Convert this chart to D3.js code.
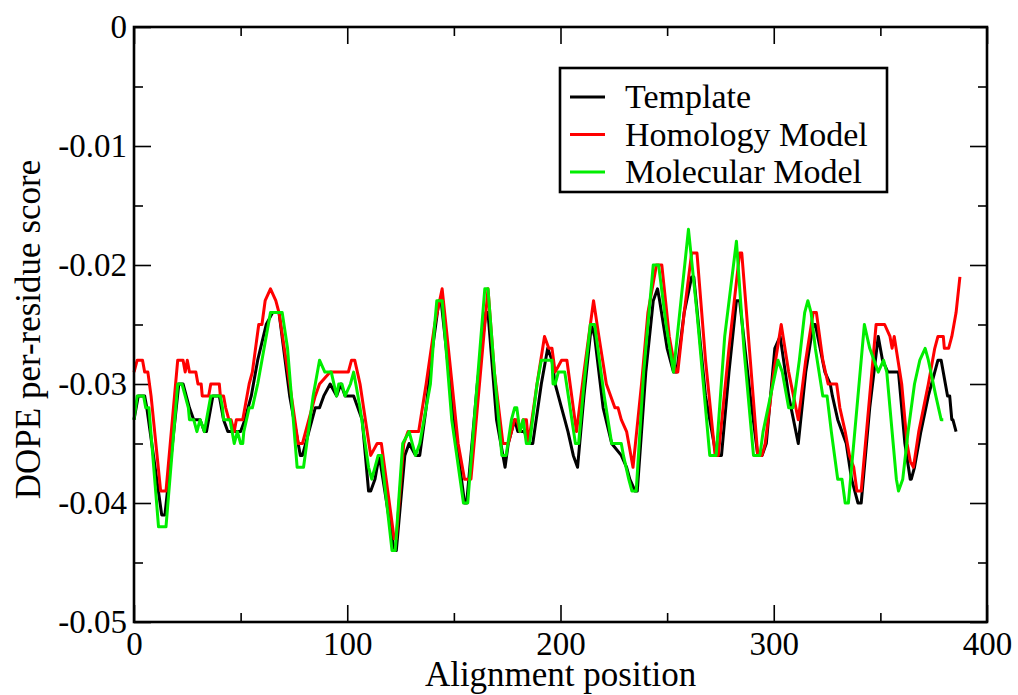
<!DOCTYPE html>
<html lang="en">
<head>
  <meta charset="utf-8">
  <title>DOPE per-residue profile</title>
  <script src="https://d3js.org/d3.v7.min.js"></script>
  <style>
    body { margin: 0; background: #fff; }
    svg text { font-family: "Liberation Serif", "DejaVu Serif", serif; fill: #000; }
  </style>
</head>
<body>
  <script>
    // [alignment position, DOPE score]
    var template = [[0,-0.033],[2,-0.031],[5,-0.031],[6,-0.032],[13,-0.041],[14.5,-0.041],[21,-0.030],[23,-0.030],[26,-0.032],[28,-0.033],[31,-0.033],[33,-0.034],[34,-0.034],[37,-0.031],[40,-0.031],[42,-0.033],[44,-0.034],[50,-0.034],[52,-0.033],[55,-0.031],[58,-0.028],[62,-0.025],[65,-0.024],[68,-0.024],[73,-0.031],[78,-0.036],[79,-0.036],[82,-0.034],[85,-0.032],[87,-0.032],[89,-0.031],[92,-0.030],[95,-0.031],[97,-0.030],[99,-0.031],[103,-0.031],[107,-0.033],[110,-0.039],[111,-0.039],[113,-0.038],[115,-0.036],[122,-0.044],[123,-0.044],[127,-0.036],[129,-0.035],[132,-0.036],[134,-0.036],[137,-0.032],[140,-0.027],[143,-0.023],[144,-0.023],[150,-0.033],[155,-0.040],[156,-0.040],[161,-0.030],[165,-0.024],[166,-0.024],[170,-0.033],[174,-0.037],[175.5,-0.035],[178.5,-0.033],[180,-0.034],[183,-0.034],[185.5,-0.035],[187,-0.035],[191,-0.030],[194,-0.027],[196,-0.028],[197.5,-0.030],[199,-0.031],[200.5,-0.032],[202,-0.033],[203.5,-0.034],[206,-0.036],[208,-0.037],[211,-0.031],[214.5,-0.025],[216,-0.026],[220,-0.032],[224,-0.035],[228.5,-0.036],[231,-0.037],[232.5,-0.038],[235,-0.039],[236,-0.039],[240,-0.029],[243.5,-0.023],[245.5,-0.022],[246.5,-0.023],[250,-0.027],[253,-0.029],[254.5,-0.029],[258,-0.024],[261.5,-0.021],[262.5,-0.021],[268,-0.031],[273,-0.036],[275.5,-0.036],[279,-0.029],[282.5,-0.023],[284,-0.023],[289,-0.031],[292.5,-0.036],[294.5,-0.036],[296.5,-0.035],[300.5,-0.027],[303,-0.026],[307,-0.031],[311.5,-0.035],[315,-0.029],[318.5,-0.025],[319.5,-0.025],[324,-0.029],[326.5,-0.030],[327.5,-0.031],[330,-0.033],[334,-0.035],[336.5,-0.038],[338,-0.039],[339.5,-0.040],[341,-0.040],[345,-0.032],[349,-0.026],[351,-0.028],[353.5,-0.029],[358.5,-0.029],[361.5,-0.035],[364,-0.038],[364.5,-0.038],[366,-0.037],[369,-0.034],[372.5,-0.031],[377,-0.028],[378.5,-0.028],[381.5,-0.031],[382.5,-0.031],[383.5,-0.033],[384,-0.033],[385.5,-0.034]];

    var homology = [[0,-0.029],[1.5,-0.028],[4,-0.028],[5,-0.029],[6.5,-0.029],[8,-0.031],[12.5,-0.039],[15,-0.039],[20.5,-0.028],[22,-0.028],[23,-0.028],[24,-0.029],[25,-0.028],[26,-0.029],[29,-0.029],[30,-0.030],[31.5,-0.030],[32,-0.031],[35,-0.031],[36,-0.030],[40,-0.030],[40.5,-0.031],[42,-0.031],[43,-0.032],[44.5,-0.033],[45.5,-0.033],[47,-0.034],[48,-0.033],[51,-0.033],[54,-0.030],[55.5,-0.029],[58.5,-0.025],[60,-0.025],[61.5,-0.023],[64,-0.022],[66.5,-0.023],[68,-0.024],[73,-0.030],[77,-0.035],[79,-0.035],[82,-0.033],[85,-0.031],[87,-0.030],[92,-0.029],[100.5,-0.029],[102,-0.028],[103.5,-0.028],[106,-0.030],[108.5,-0.033],[111,-0.036],[114,-0.035],[116,-0.035],[122,-0.043],[123,-0.043],[126.5,-0.035],[128.5,-0.034],[133.5,-0.034],[137,-0.030],[141,-0.025],[144.5,-0.022],[148,-0.028],[152,-0.035],[155,-0.038],[158,-0.038],[162,-0.030],[166,-0.022],[169,-0.029],[173,-0.035],[175.5,-0.035],[178.5,-0.033],[179.5,-0.033],[181,-0.034],[182.5,-0.033],[184,-0.033],[185,-0.035],[189,-0.030],[192.5,-0.026],[194.5,-0.027],[196,-0.027],[197.5,-0.029],[200.5,-0.028],[203,-0.028],[207.5,-0.034],[211,-0.029],[215.5,-0.023],[218,-0.026],[221.5,-0.030],[225.5,-0.032],[227,-0.032],[228.5,-0.033],[231,-0.034],[234,-0.037],[238,-0.030],[241,-0.024],[245,-0.020],[247.5,-0.020],[251,-0.026],[254,-0.029],[255,-0.029],[258,-0.024],[261.5,-0.019],[264,-0.019],[268,-0.028],[272.5,-0.036],[274,-0.036],[279,-0.027],[284,-0.019],[285,-0.019],[289,-0.028],[292.5,-0.036],[294.5,-0.036],[296,-0.035],[300,-0.029],[303.5,-0.025],[307,-0.029],[311.5,-0.033],[315,-0.028],[318.5,-0.024],[320,-0.024],[323,-0.028],[325.5,-0.030],[329.5,-0.030],[331,-0.032],[333.5,-0.034],[335.5,-0.036],[337.5,-0.037],[339,-0.039],[341,-0.039],[345,-0.031],[348,-0.025],[352,-0.025],[354.5,-0.026],[355.5,-0.027],[356.5,-0.026],[360,-0.030],[362.5,-0.035],[364,-0.0365],[365.5,-0.037],[368,-0.034],[372.5,-0.030],[375.5,-0.027],[377,-0.026],[379.5,-0.026],[380,-0.027],[382,-0.027],[383.5,-0.026],[385.5,-0.024],[387.3,-0.021]];

    var molecular = [[0,-0.033],[1.5,-0.031],[4.5,-0.031],[5.5,-0.032],[7,-0.032],[11.5,-0.042],[15,-0.042],[20.5,-0.030],[22.5,-0.030],[24,-0.031],[25.5,-0.032],[26,-0.033],[28,-0.033],[29.5,-0.034],[31,-0.033],[33,-0.034],[36,-0.031],[40.5,-0.031],[41.5,-0.032],[42,-0.033],[45,-0.033],[46,-0.034],[47,-0.035],[48.5,-0.034],[50,-0.035],[51,-0.035],[51.5,-0.034],[54,-0.032],[55.5,-0.032],[58,-0.030],[60,-0.028],[61,-0.027],[63,-0.025],[64,-0.024],[69.5,-0.024],[72,-0.027],[76.5,-0.037],[79.5,-0.037],[81,-0.035],[84,-0.031],[87,-0.028],[89.5,-0.029],[92.5,-0.029],[95,-0.031],[96,-0.030],[97.5,-0.030],[99,-0.031],[101.5,-0.030],[103,-0.029],[106,-0.032],[110,-0.037],[111.5,-0.038],[114.5,-0.036],[116,-0.036],[121,-0.044],[122.5,-0.044],[126,-0.035],[129,-0.034],[132,-0.036],[134,-0.035],[139,-0.030],[141,-0.025],[142,-0.023],[144.5,-0.023],[149,-0.033],[154.5,-0.040],[156.5,-0.040],[160,-0.032],[164.5,-0.022],[166,-0.022],[169,-0.029],[172.5,-0.036],[174.5,-0.036],[177,-0.033],[178.5,-0.032],[179.5,-0.032],[181,-0.034],[182.5,-0.033],[184,-0.035],[185.5,-0.035],[189,-0.030],[191,-0.028],[196,-0.028],[196.5,-0.030],[197.5,-0.030],[199,-0.029],[202,-0.029],[207,-0.035],[208.5,-0.035],[211,-0.030],[214,-0.025],[216,-0.025],[220.5,-0.031],[224,-0.035],[228.5,-0.035],[229.5,-0.036],[232,-0.038],[233.5,-0.039],[235.5,-0.039],[239,-0.029],[243.5,-0.020],[246,-0.020],[249.5,-0.025],[253,-0.029],[256.5,-0.023],[260,-0.017],[264,-0.024],[270,-0.036],[273,-0.036],[277,-0.026],[282.5,-0.018],[286,-0.027],[290.5,-0.036],[293.5,-0.036],[295,-0.034],[298.5,-0.031],[302,-0.028],[304,-0.029],[307,-0.032],[309,-0.032],[312,-0.028],[314.5,-0.024],[316,-0.023],[317.5,-0.024],[319.5,-0.027],[323,-0.031],[325,-0.031],[327,-0.034],[330,-0.038],[332,-0.038],[333.5,-0.040],[335,-0.040],[339,-0.032],[342.5,-0.025],[345,-0.027],[349,-0.029],[351.5,-0.028],[353,-0.029],[356,-0.035],[357.5,-0.038],[358.5,-0.039],[360.5,-0.038],[363,-0.034],[366,-0.030],[368.5,-0.028],[371,-0.027],[372.5,-0.028],[376,-0.031],[378.5,-0.033],[379.5,-0.033]];

    var seriesNames = ['Template', 'Homology Model', 'Molecular Model'];
    var seriesColors = ['#000000', '#ff0000', '#00ee00'];
    var xTicks = [0, 100, 200, 300, 400];
    var xMinor = [50, 150, 250, 350];
    var yTicks = [0, -0.01, -0.02, -0.03, -0.04, -0.05];
    var yMinor = [-0.005, -0.015, -0.025, -0.035, -0.045];

    var W = 1018, H = 695;
    var margin = { top: 27, right: 31, bottom: 73, left: 134 };
    var innerW = W - margin.left - margin.right;
    var innerH = H - margin.top - margin.bottom;
    var serif = '"Liberation Serif", "DejaVu Serif", serif';

    var svg = d3.select('body').append('svg')
      .attr('width', W)
      .attr('height', H);
    var g = svg.append('g')
      .attr('transform', 'translate(' + [margin.left, margin.top] + ')');

    var x = d3.scaleLinear().domain([0, 400]).range([0, innerW]);
    var y = d3.scaleLinear().domain([-0.05, 0]).range([innerH, 0]);

    var fmt = function(d) { return d === 0 ? '0' : String(d); };

    function styleAxis(sel) {
      sel.attr('font-family', serif).attr('font-size', 33);
      sel.select('.domain').remove();
      sel.selectAll('.tick line').attr('stroke', '#000').attr('stroke-width', 1.6);
      sel.selectAll('.tick text')
        .style('font-family', serif)
        .style('font-size', '33px');
    }

    // inward ticks on all four sides
    g.append('g').attr('transform', 'translate(0,' + innerH + ')')
      .call(d3.axisBottom(x).tickValues(xTicks).tickSize(-17).tickPadding(10).tickFormat(fmt))
      .call(styleAxis);
    g.append('g').attr('transform', 'translate(0,' + innerH + ')')
      .call(d3.axisBottom(x).tickValues(xMinor).tickSize(-9).tickFormat(''))
      .call(styleAxis);
    g.append('g')
      .call(d3.axisTop(x).tickValues(xTicks).tickSize(-17).tickFormat(''))
      .call(styleAxis);
    g.append('g')
      .call(d3.axisTop(x).tickValues(xMinor).tickSize(-9).tickFormat(''))
      .call(styleAxis);
    g.append('g')
      .call(d3.axisLeft(y).tickValues(yTicks).tickSize(-17).tickPadding(7).tickFormat(fmt))
      .call(styleAxis);
    g.append('g')
      .call(d3.axisLeft(y).tickValues(yMinor).tickSize(-9).tickFormat(''))
      .call(styleAxis);
    g.append('g').attr('transform', 'translate(' + innerW + ',0)')
      .call(d3.axisRight(y).tickValues(yTicks).tickSize(-17).tickFormat(''))
      .call(styleAxis);
    g.append('g').attr('transform', 'translate(' + innerW + ',0)')
      .call(d3.axisRight(y).tickValues(yMinor).tickSize(-9).tickFormat(''))
      .call(styleAxis);

    var line = d3.line()
      .x(function(d) { return x(d[0]); })
      .y(function(d) { return y(d[1]); });

    [template, homology, molecular].forEach(function(s, i) {
      g.append('path')
        .datum(s)
        .attr('fill', 'none')
        .attr('stroke', seriesColors[i])
        .attr('stroke-width', 3)
        .attr('stroke-linejoin', 'round')
        .attr('d', line);
    });

    // frame
    g.append('rect')
      .attr('width', innerW)
      .attr('height', innerH)
      .attr('fill', 'none')
      .attr('stroke', '#000')
      .attr('stroke-width', 2.6);

    // axis titles
    svg.append('text')
      .attr('x', margin.left + innerW / 2)
      .attr('y', 686)
      .attr('text-anchor', 'middle')
      .attr('font-family', serif)
      .attr('font-size', 35)
      .text('Alignment position');
    svg.append('text')
      .attr('transform', 'translate(40,' + (margin.top + innerH / 2 + 5) + ') rotate(-90)')
      .attr('text-anchor', 'middle')
      .attr('font-family', serif)
      .attr('font-size', 35)
      .text('DOPE per-residue score');

    // legend
    var lg = svg.append('g').attr('transform', 'translate(560,68)');
    lg.append('rect')
      .attr('width', 327)
      .attr('height', 124)
      .attr('fill', '#fff')
      .attr('stroke', '#000')
      .attr('stroke-width', 2.6);
    var rows = lg.selectAll('.row')
      .data(seriesNames)
      .enter().append('g')
      .attr('class', 'row')
      .attr('transform', function(d, i) { return 'translate(0,' + (29 + i * 37.5) + ')'; });
    rows.append('line')
      .attr('x1', 10).attr('x2', 45)
      .attr('stroke', function(d, i) { return seriesColors[i]; })
      .attr('stroke-width', 3);
    rows.append('text')
      .attr('x', 65)
      .attr('dy', '0.33em')
      .attr('font-family', serif)
      .attr('font-size', 34)
      .text(function(d) { return d; });
  </script>
</body>
</html>
